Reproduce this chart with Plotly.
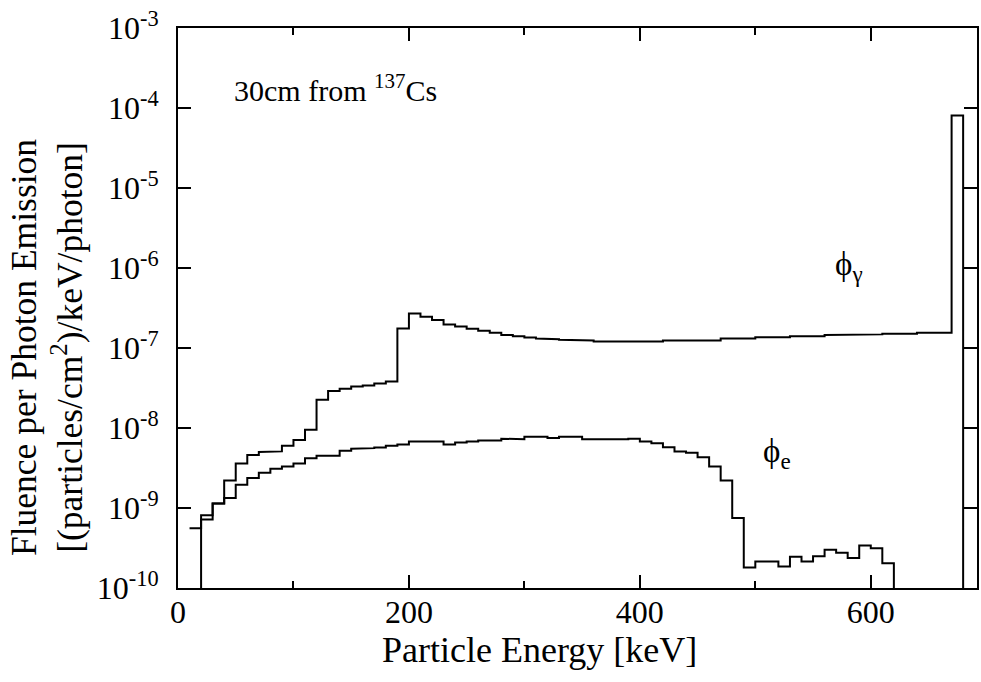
import plotly.graph_objects as go

# ---------------- data ----------------
BIN_WIDTH = 10  # keV

# photon fluence, bins starting at 10 keV (lower edges)
gamma_edges = list(range(10, 680, 10))
gamma_vals = [
    5.6e-10, 8.1e-10, 1.14e-9, 2.2e-9, 3.6e-9, 4.6e-9, 5.0e-9, 5.1e-9, 6.0e-9, 7.1e-9,   # 10-100
    9.5e-9, 2.26e-8, 2.9e-8, 3.1e-8, 3.3e-8, 3.4e-8, 3.6e-8, 3.8e-8, 1.75e-7, 2.7e-7,   # 110-200
    2.45e-7, 2.24e-7, 1.96e-7, 1.86e-7, 1.74e-7, 1.64e-7, 1.55e-7, 1.45e-7, 1.40e-7, 1.35e-7,  # 210-300
    1.31e-7, 1.29e-7, 1.27e-7, 1.245e-7, 1.245e-7, 1.21e-7, 1.21e-7, 1.21e-7, 1.21e-7, 1.21e-7,  # 310-400
    1.21e-7, 1.245e-7, 1.245e-7, 1.245e-7, 1.245e-7, 1.245e-7, 1.31e-7, 1.31e-7, 1.31e-7, 1.36e-7,  # 410-500
    1.36e-7, 1.36e-7, 1.40e-7, 1.40e-7, 1.40e-7, 1.45e-7, 1.45e-7, 1.45e-7, 1.48e-7, 1.48e-7,  # 510-600
    1.51e-7, 1.51e-7, 1.51e-7, 1.55e-7, 1.55e-7, 1.55e-7, 8.05e-5,  # 610-670
]

# electron fluence, bins starting at 20 keV (lower edges)
e_edges = list(range(20, 620, 10))
e_vals = [
    7.2e-10, 1.14e-9, 1.33e-9, 1.95e-9, 2.37e-9, 2.75e-9, 3.1e-9, 3.3e-9,   # 20-90
    3.6e-9, 4.2e-9, 4.5e-9, 4.5e-9, 5.2e-9, 5.5e-9, 5.6e-9, 5.7e-9, 6.0e-9, 6.2e-9,  # 100-190
    6.8e-9, 6.8e-9, 6.8e-9, 6.2e-9, 6.6e-9, 6.8e-9, 7.0e-9, 7.0e-9, 7.35e-9, 7.25e-9,  # 200-290
    7.8e-9, 7.8e-9, 7.5e-9, 7.8e-9, 7.8e-9, 7.25e-9, 7.15e-9, 7.25e-9, 7.25e-9, 7.35e-9,  # 300-390
    6.8e-9, 6.45e-9, 5.75e-9, 5.1e-9, 4.9e-9, 4.3e-9, 3.3e-9, 2.2e-9, 7.5e-10, 1.8e-10,  # 400-490
    2.15e-10, 2.15e-10, 1.86e-10, 2.45e-10, 2.15e-10, 2.5e-10, 3.0e-10, 2.75e-10, 2.37e-10, 3.4e-10,  # 500-590
    3.15e-10, 2.04e-10,  # 600-610
]

FLOOR = 1e-10
x_tickvals = [0, 200, 400, 600]
y_tickvals = [1e-10, 1e-9, 1e-8, 1e-7, 1e-6, 1e-5, 1e-4, 1e-3]
y_ticktext = ["10<sup>-10</sup>", "10<sup>-9</sup>", "10<sup>-8</sup>", "10<sup>-7</sup>",
              "10<sup>-6</sup>", "10<sup>-5</sup>", "10<sup>-4</sup>", "10<sup>-3</sup>"]


def steps(edges, vals, start_floor, end_floor):
    xs, ys = [], []
    if start_floor:
        xs.append(edges[0]); ys.append(FLOOR)
    for lo, v in zip(edges, vals):
        xs += [lo, lo + BIN_WIDTH]
        ys += [v, v]
    if end_floor:
        xs.append(edges[-1] + BIN_WIDTH); ys.append(FLOOR)
    return xs, ys


gx, gy = steps(gamma_edges, gamma_vals, False, True)
ex, ey = steps(e_edges, e_vals, True, True)

FONT = "Liberation Serif"

fig = go.Figure()
fig.add_trace(go.Scatter(x=gx, y=gy, mode="lines", line=dict(color="black", width=2),
                         showlegend=False, hoverinfo="skip"))
fig.add_trace(go.Scatter(x=ex, y=ey, mode="lines", line=dict(color="black", width=2),
                         showlegend=False, hoverinfo="skip"))

fig.update_layout(
    width=981, height=682,
    margin=dict(l=178, r=4, t=28, b=94, autoexpand=False),
    paper_bgcolor="white", plot_bgcolor="white",
    font=dict(family=FONT, size=32, color="black"),
    showlegend=False,
)

fig.update_xaxes(
    range=[0, 692], showgrid=False, zeroline=False, automargin=False,
    showline=True, linecolor="black", linewidth=2, mirror="ticks",
    ticks="inside", ticklen=13, tickwidth=1.5, tickcolor="black",
    tickvals=x_tickvals, tickfont=dict(family=FONT, size=32),
    ticklabelstandoff=-5,
    minor=dict(ticks="inside", ticklen=7, tickwidth=1.5, tickcolor="black", dtick=100,
               tick0=0, showgrid=False),
)
fig.update_yaxes(
    type="log", range=[-10, -3], showgrid=False, zeroline=False, automargin=False,
    showline=True, linecolor="black", linewidth=2, mirror="ticks",
    ticks="inside", ticklen=13, tickwidth=1.5, tickcolor="black",
    tickvals=y_tickvals, ticktext=y_ticktext, tickfont=dict(family=FONT, size=32),
    ticklabelstandoff=11,
)

fig.add_annotation(text="Particle Energy [keV]", xref="paper", yref="paper",
                   x=(539 - 178) / 799, y=(588 - 650) / 560, xanchor="center", yanchor="middle",
                   showarrow=False, font=dict(family=FONT, size=36))
fig.add_annotation(text="Fluence per Photon Emission<br>[(particles/cm<sup>2</sup>)/keV/photon]",
                   xref="paper", yref="paper", textangle=-90,
                   x=(47 - 178) / 799, y=(588 - 348) / 560, xanchor="center", yanchor="middle",
                   showarrow=False, font=dict(family=FONT, size=35.5))
fig.add_annotation(text="30cm from <sup>137</sup>Cs", xref="x", yref="paper",
                   x=47, y=(588 - 88) / 560, xanchor="left", yanchor="middle",
                   showarrow=False, font=dict(family=FONT, size=30))
fig.add_annotation(text="ϕ<sub>γ</sub>", xref="x", yref="paper",
                   x=567, y=(588 - 266) / 560, xanchor="left", yanchor="middle",
                   showarrow=False, font=dict(family=FONT, size=33))
fig.add_annotation(text="ϕ<sub>e</sub>", xref="x", yref="paper",
                   x=505, y=(588 - 453) / 560, xanchor="left", yanchor="middle",
                   showarrow=False, font=dict(family=FONT, size=33))

fig.write_html("out.html", config={"displayModeBar": False},
               post_script="document.body.style.margin='0';")
